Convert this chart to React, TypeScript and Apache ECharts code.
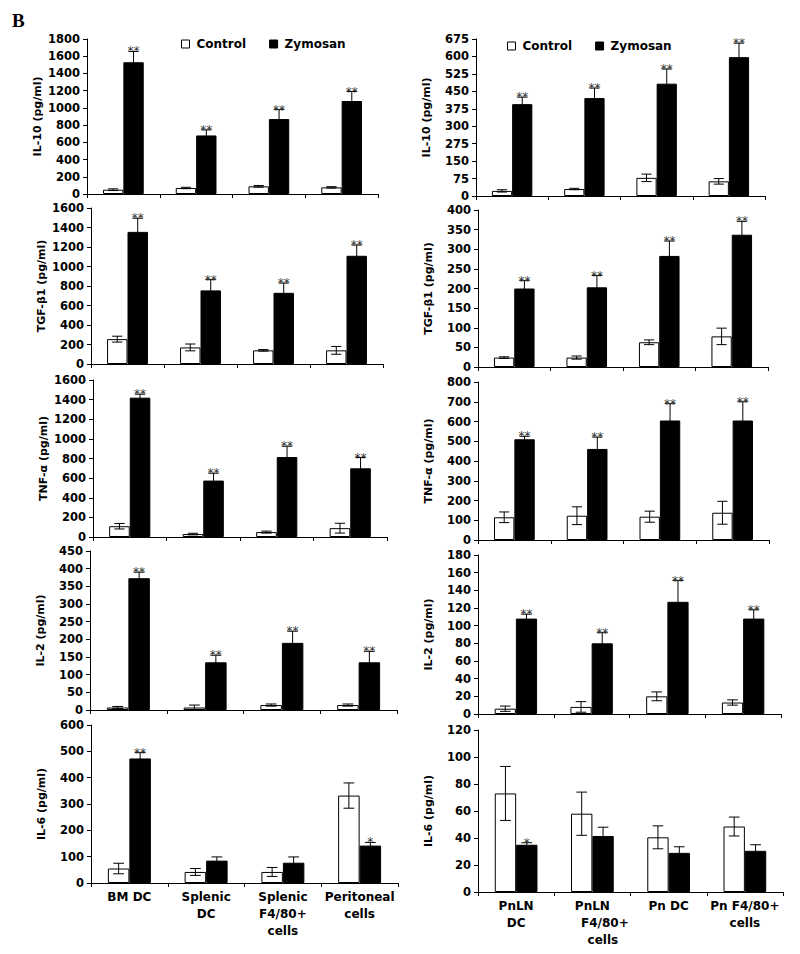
import React, { useEffect, useRef } from "react";
import * as echarts from "echarts";

// ---------- categories ----------
const NB = "\u00a0";
const leftCategories = ["BM DC", "Splenic\nDC", "Splenic\nF4/80+\ncells", "Peritoneal\ncells"];
const rightCategories = [
  "PnLN\nDC",
  "PnLN\n" + NB.repeat(6) + "F4/80+\n" + NB.repeat(5) + "cells",
  "Pn DC",
  "Pn F4/80+\ncells",
];
const seriesNames = ["Control", "Zymosan"];

// ---------- IL-10 ----------
const il10LeftControl = [50, 70, 89, 77];
const il10LeftControlErr = [10, 8, 10, 8];
const il10LeftZymosan = [1530, 680, 870, 1080];
const il10LeftZymosanErr = [125, 65, 110, 110];
const il10LeftStars = ["**", "**", "**", "**"];
const il10RightControl = [22, 30, 78, 63];
const il10RightControlErr = [5, 3, 16, 12];
const il10RightZymosan = [395, 421, 483, 597];
const il10RightZymosanErr = [30, 43, 63, 60];
const il10RightStars = ["**", "**", "**", "**"];
const il10RightTickLabels = ["0", "75", "150", "275", "300", "375", "450", "525", "600", "675"];

// ---------- TGF-β1 ----------
const tgfLeftControl = [255, 170, 140, 140];
const tgfLeftControlErr = [30, 35, 8, 40];
const tgfLeftZymosan = [1355, 755, 730, 1110];
const tgfLeftZymosanErr = [140, 110, 100, 110];
const tgfLeftStars = ["**", "**", "**", "**"];
const tgfRightControl = [24, 24, 63, 78];
const tgfRightControlErr = [2, 4, 6, 21];
const tgfRightZymosan = [200, 203, 283, 337];
const tgfRightZymosanErr = [20, 30, 38, 34];
const tgfRightStars = ["**", "**", "**", "**"];

// ---------- TNF-α ----------
const tnfLeftControl = [110, 30, 50, 90];
const tnfLeftControlErr = [28, 8, 10, 50];
const tnfLeftZymosan = [1420, 575, 815, 700];
const tnfLeftZymosanErr = [35, 75, 110, 110];
const tnfLeftStars = ["**", "**", "**", "**"];
const tnfRightControl = [115, 123, 118, 138];
const tnfRightControlErr = [27, 45, 28, 58];
const tnfRightZymosan = [510, 461, 605, 605];
const tnfRightZymosanErr = [15, 60, 85, 95];
const tnfRightStars = ["**", "**", "**", "**"];

// ---------- IL-2 ----------
const il2LeftControl = [7, 7, 14, 14];
const il2LeftControlErr = [3, 7, 3, 3];
const il2LeftZymosan = [373, 135, 190, 135];
const il2LeftZymosanErr = [17, 20, 33, 31];
const il2LeftStars = ["**", "**", "**", "**"];
const il2RightControl = [6, 8, 20, 13];
const il2RightControlErr = [3, 6, 5, 3];
const il2RightZymosan = [108, 80, 127, 108];
const il2RightZymosanErr = [5, 12, 24, 10];
const il2RightStars = ["**", "**", "**", "**"];

// ---------- IL-6 ----------
const il6LeftControl = [55, 42, 42, 332];
const il6LeftControlErr = [20, 13, 17, 48];
const il6LeftZymosan = [473, 85, 77, 142];
const il6LeftZymosanErr = [22, 14, 22, 12];
const il6LeftStars = ["**", "", "", "*"];
const il6RightControl = [73, 58, 40.5, 48.5];
const il6RightControlErr = [20, 16, 8.5, 7];
const il6RightZymosan = [35, 41.5, 29, 30.5];
const il6RightZymosanErr = [1.5, 6.5, 4.5, 4.5];
const il6RightStars = ["*", "", "", ""];

const FONT = "DejaVu Sans";

type Panel = {
  grid: { left: number; top: number; width: number; height: number };
  name: string;
  max: number;
  interval: number;
  cats: string[];
  c: number[];
  ce: number[];
  z: number[];
  ze: number[];
  stars: string[];
  showX: boolean;
  tickLabels?: string[];
};

const panels: Panel[] = [
  { grid: { left: 87, top: 39, width: 291, height: 155 }, name: "IL-10 (pg/ml)", max: 1800, interval: 200, cats: leftCategories, c: il10LeftControl, ce: il10LeftControlErr, z: il10LeftZymosan, ze: il10LeftZymosanErr, stars: il10LeftStars, showX: false },
  { grid: { left: 91, top: 208, width: 292, height: 156 }, name: "TGF-β1 (pg/ml)", max: 1600, interval: 200, cats: leftCategories, c: tgfLeftControl, ce: tgfLeftControlErr, z: tgfLeftZymosan, ze: tgfLeftZymosanErr, stars: tgfLeftStars, showX: false },
  { grid: { left: 93, top: 380, width: 294, height: 157 }, name: "TNF-α (pg/ml)", max: 1600, interval: 200, cats: leftCategories, c: tnfLeftControl, ce: tnfLeftControlErr, z: tnfLeftZymosan, ze: tnfLeftZymosanErr, stars: tnfLeftStars, showX: false },
  { grid: { left: 90, top: 551, width: 307, height: 159 }, name: "IL-2 (pg/ml)", max: 450, interval: 50, cats: leftCategories, c: il2LeftControl, ce: il2LeftControlErr, z: il2LeftZymosan, ze: il2LeftZymosanErr, stars: il2LeftStars, showX: false },
  { grid: { left: 91, top: 725, width: 307, height: 158 }, name: "IL-6 (pg/ml)", max: 600, interval: 100, cats: leftCategories, c: il6LeftControl, ce: il6LeftControlErr, z: il6LeftZymosan, ze: il6LeftZymosanErr, stars: il6LeftStars, showX: true },
  { grid: { left: 476, top: 39, width: 289, height: 157 }, name: "IL-10 (pg/ml)", max: 675, interval: 75, cats: rightCategories, c: il10RightControl, ce: il10RightControlErr, z: il10RightZymosan, ze: il10RightZymosanErr, stars: il10RightStars, showX: false, tickLabels: il10RightTickLabels },
  { grid: { left: 478, top: 210, width: 290, height: 157 }, name: "TGF-β1 (pg/ml)", max: 400, interval: 50, cats: rightCategories, c: tgfRightControl, ce: tgfRightControlErr, z: tgfRightZymosan, ze: tgfRightZymosanErr, stars: tgfRightStars, showX: false },
  { grid: { left: 478, top: 382, width: 291, height: 158 }, name: "TNF-α (pg/ml)", max: 800, interval: 100, cats: rightCategories, c: tnfRightControl, ce: tnfRightControlErr, z: tnfRightZymosan, ze: tnfRightZymosanErr, stars: tnfRightStars, showX: false },
  { grid: { left: 478, top: 555, width: 303, height: 159 }, name: "IL-2 (pg/ml)", max: 180, interval: 20, cats: rightCategories, c: il2RightControl, ce: il2RightControlErr, z: il2RightZymosan, ze: il2RightZymosanErr, stars: il2RightStars, showX: false },
  { grid: { left: 478, top: 730, width: 305, height: 162 }, name: "IL-6 (pg/ml)", max: 120, interval: 20, cats: rightCategories, c: il6RightControl, ce: il6RightControlErr, z: il6RightZymosan, ze: il6RightZymosanErr, stars: il6RightStars, showX: true },
];

const BAR_FRAC = 0.28;

function buildOption() {
  const grid: any[] = [];
  const xAxis: any[] = [];
  const yAxis: any[] = [];
  const series: any[] = [];

  panels.forEach((p, i) => {
    grid.push({ ...p.grid, containLabel: false });
    xAxis.push({
      type: "category",
      gridIndex: i,
      data: p.cats,
      axisLine: { show: true, lineStyle: { color: "#000", width: 1 } },
      axisTick: { show: true, length: 4, inside: false, lineStyle: { color: "#000" } },
      axisLabel: {
        show: p.showX,
        interval: 0,
        color: "#000",
        fontFamily: FONT,
        fontWeight: "bold",
        fontSize: 12,
        lineHeight: 17,
        margin: 5,
      },
      splitLine: { show: false },
    });
    const labels = p.tickLabels;
    yAxis.push({
      type: "value",
      gridIndex: i,
      min: 0,
      max: p.max,
      interval: p.interval,
      name: p.name,
      nameLocation: "middle",
      nameRotate: 90,
      nameGap: 44,
      nameMoveOverlap: false,
      nameTextStyle: { color: "#000", fontFamily: FONT, fontWeight: "bold", fontSize: 11 },
      axisLine: { show: true, lineStyle: { color: "#000", width: 1 } },
      axisTick: { show: true, length: 4, inside: false, lineStyle: { color: "#000" } },
      axisLabel: {
        color: "#000",
        fontFamily: FONT,
        fontWeight: "bold",
        fontSize: 11.5,
        lineHeight: 11,
        margin: 7,
        formatter: labels
          ? (v: number) => labels[Math.round(v / p.interval)] ?? String(v)
          : (v: number) => String(v),
      },
      splitLine: { show: false },
    });

    series.push({
      type: "bar",
      name: seriesNames[0],
      xAxisIndex: i,
      yAxisIndex: i,
      data: p.c,
      barGap: "0%",
      barCategoryGap: "44%",
      itemStyle: { color: "#fff", borderColor: "#000", borderWidth: 1 },
      z: 2,
    });
    series.push({
      type: "bar",
      name: seriesNames[1],
      xAxisIndex: i,
      yAxisIndex: i,
      data: p.z,
      barGap: "0%",
      barCategoryGap: "44%",
      itemStyle: { color: "#000", borderColor: "#000", borderWidth: 1 },
      z: 2,
    });

    const errData: number[][] = [];
    p.c.forEach((v, k) => errData.push([k, v, p.ce[k], 0]));
    p.z.forEach((v, k) => errData.push([k, v, p.ze[k], 1]));
    const stars = p.stars;
    series.push({
      type: "custom",
      xAxisIndex: i,
      yAxisIndex: i,
      data: errData,
      z: 5,
      silent: true,
      renderItem: (params: any, api: any) => {
        const cat = api.value(0);
        const mean = api.value(1);
        const err = api.value(2);
        const grp = api.value(3);
        const band = api.size([1, 0])[0];
        const bw = band * BAR_FRAC;
        const base = api.coord([cat, mean]);
        const cx = base[0] + (grp === 0 ? -bw / 2 : bw / 2);
        const yTop = api.coord([cat, mean + err])[1];
        const yBot = api.coord([cat, Math.max(0, mean - err)])[1];
        const half = bw * 0.25;
        const st = { stroke: "#000", lineWidth: 1 };
        const children: any[] = [
          { type: "line", shape: { x1: cx, y1: yTop, x2: cx, y2: yBot }, style: st },
          { type: "line", shape: { x1: cx - half, y1: yTop, x2: cx + half, y2: yTop }, style: st },
          { type: "line", shape: { x1: cx - half, y1: yBot, x2: cx + half, y2: yBot }, style: st },
        ];
        if (grp === 1) {
          const s = stars[params.dataIndex - 4];
          if (s) {
            children.push({
              type: "text",
              style: {
                text: s,
                x: cx,
                y: yTop + 6,
                align: "center",
                verticalAlign: "bottom",
                fill: "#333",
                fontFamily: FONT,
                fontSize: 12,
              },
            });
          }
        }
        return { type: "group", children };
      },
    });
  });

  const legendData = [
    { name: "Control", itemStyle: { color: "#fff", borderColor: "#000", borderWidth: 1 } },
    { name: "Zymosan", itemStyle: { color: "#000", borderColor: "#000", borderWidth: 1 } },
  ];
  const legendCommon = {
    data: legendData,
    icon: "rect",
    itemWidth: 8,
    itemHeight: 8,
    itemGap: 23,
    selectedMode: false,
    orient: "horizontal",
    padding: 0,
    textStyle: { color: "#000", fontFamily: FONT, fontWeight: "bold", fontSize: 12, padding: [0, 0, 0, 2] },
  };

  return {
    animation: false,
    backgroundColor: "#fff",
    title: {
      text: "B",
      left: 12,
      top: 11,
      padding: 0,
      textStyle: { color: "#000", fontFamily: "Liberation Serif", fontWeight: "bold", fontSize: 19 },
    },
    legend: [
      { ...legendCommon, left: 181, top: 38 },
      { ...legendCommon, left: 507, top: 40 },
    ],
    grid,
    xAxis,
    yAxis,
    series,
  };
}

export default function App() {
  const ref = useRef<HTMLDivElement>(null);
  useEffect(() => {
    if (!ref.current) return;
    const chart = echarts.init(ref.current, undefined, { renderer: "svg" });
    chart.setOption(buildOption() as any);
    return () => chart.dispose();
  }, []);
  return (
    <div
      ref={ref}
      style={{ position: "absolute", left: 0, top: 0, width: 800, height: 954, background: "#fff" }}
    />
  );
}
